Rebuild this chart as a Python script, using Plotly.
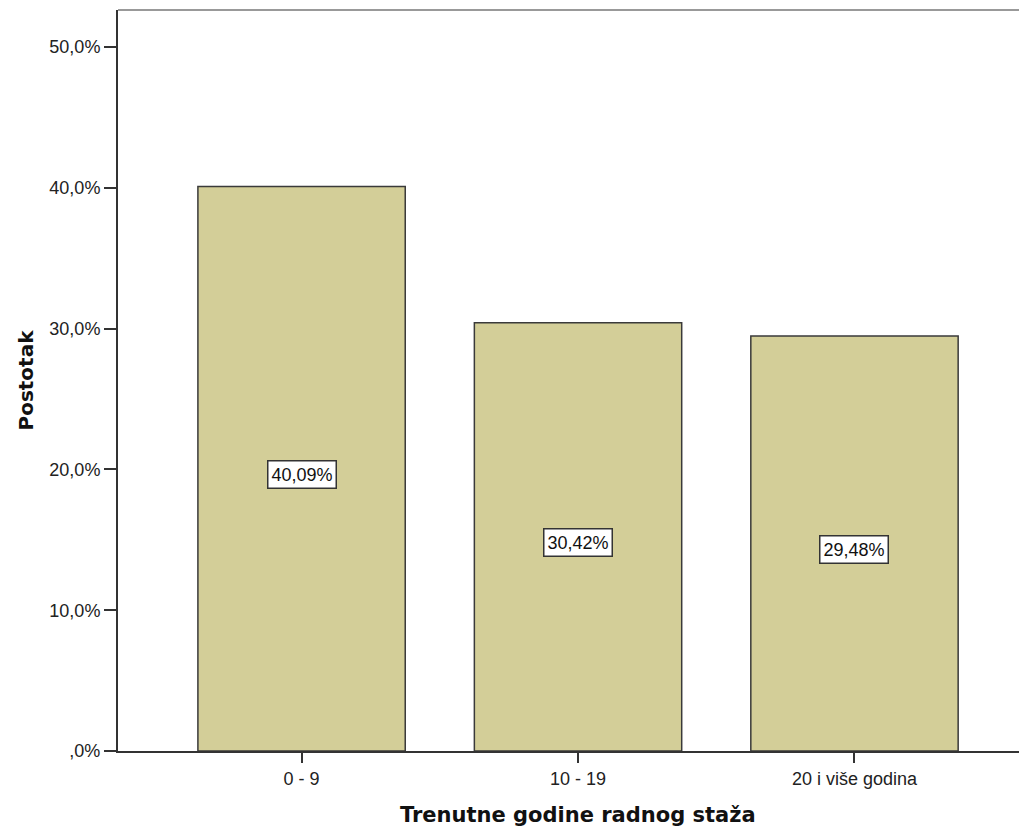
import plotly.graph_objects as go

categories = ["0 - 9", "10 - 19", "20 i više godina"]
values = [40.09, 30.42, 29.48]
value_labels = ["40,09%", "30,42%", "29,48%"]
tick_vals = [0, 10, 20, 30, 40, 50]
tick_text = [",0%", "10,0%", "20,0%", "30,0%", "40,0%", "50,0%"]

fig = go.Figure()
fig.add_trace(go.Bar(
    x=list(range(len(categories))), y=values, width=0.75,
    marker=dict(color="#D3CE98", line=dict(color="#3a3a3a", width=1.5)),
    hoverinfo="skip",
))

for i, (v, t) in enumerate(zip(values, value_labels)):
    fig.add_annotation(x=i, y=v / 2, yshift=-6, text=t, showarrow=False,
                       font=dict(family="Arial, Liberation Sans", size=18, color="#111"),
                       bgcolor="white", bordercolor="#333", borderwidth=1.5, borderpad=3)

fig.add_shape(type="line", xref="paper", yref="paper", x0=0, x1=1, y0=1, y1=1,
              line=dict(color="#999", width=2))

fig.add_annotation(xref="paper", yref="paper", x=0.5, y=0, yshift=-64, xshift=5,
                   text="<b>Trenutne godine radnog staža</b>", showarrow=False,
                   xanchor="center", yanchor="middle",
                   font=dict(family="DejaVu Sans", size=21, color="#111"))
fig.add_annotation(xref="paper", yref="paper", x=0, y=0.5, xshift=-93,
                   text="<b>Postotak</b>", showarrow=False, textangle=-90,
                   xanchor="center", yanchor="middle",
                   font=dict(family="DejaVu Sans", size=20, color="#111"))

fig.update_layout(
    width=1019, height=820,
    margin=dict(l=110, r=0, t=2, b=77),
    plot_bgcolor="white", paper_bgcolor="white",
    showlegend=False,
    xaxis=dict(range=[-0.664, 2.624], tickvals=list(range(len(categories))), ticktext=categories,
               showgrid=False, zeroline=False, showline=True, linecolor="#333", linewidth=2,
               ticks="outside", ticklen=10, tickwidth=2, tickcolor="#333",
               tickfont=dict(family="Arial, Liberation Sans", size=18, color="#222")),
    yaxis=dict(range=[0, 52.63], tickvals=tick_vals, ticktext=tick_text,
               showgrid=False, zeroline=False, showline=True, linecolor="#333", linewidth=2,
               ticks="outside", ticklen=12, tickwidth=2, tickcolor="#333",
               tickfont=dict(family="Arial, Liberation Sans", size=18, color="#222")),
)

fig.write_html("out.html")
